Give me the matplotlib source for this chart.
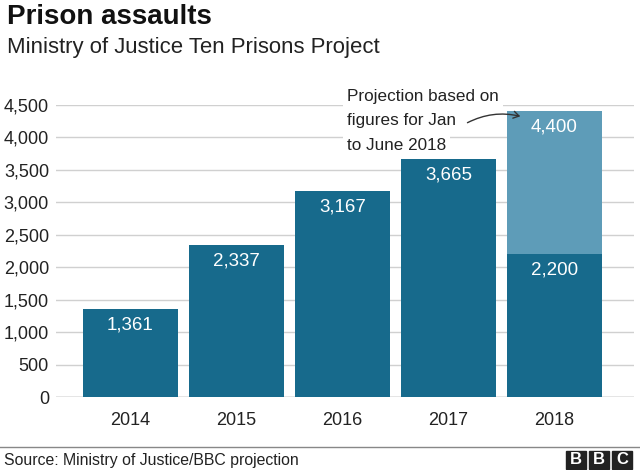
import numpy as np
import matplotlib.pyplot as plt
from matplotlib.patches import Rectangle, FancyArrowPatch

plt.rcParams['font.family'] = ['Liberation Sans', 'DejaVu Sans']

years = ["2014", "2015", "2016", "2017", "2018"]
actual = [1361, 2337, 3167, 3665, 2200]
projected = [0, 0, 0, 0, 2200]
labels = ["1,361", "2,337", "3,167", "3,665", "2,200"]
proj_label = "4,400"
yticks = [0, 500, 1000, 1500, 2000, 2500, 3000, 3500, 4000, 4500]

dark = "#176a8c"
light = "#5e9cb8"

fig = plt.figure(figsize=(6.4, 4.7), dpi=100)
ax = fig.add_axes([56 / 640, 0.155, (634 - 56) / 640, 0.622])

x = np.arange(len(years))
ax.bar(x, actual, width=0.9, color=dark, zorder=2)
ax.bar(x, projected, bottom=actual, width=0.9, color=light, zorder=2)

# value labels, ~16px under the bar tops
px = 4500 / (0.622 * 470)
for xi, v, lab in zip(x, actual, labels):
    ax.text(xi, v - 16 * px, lab, color="white", fontsize=13.5,
            ha="center", va="center", zorder=3)
ax.text(x[-1], actual[-1] + projected[-1] - 16 * px, proj_label, color="white",
        fontsize=13.5, ha="center", va="center", zorder=3)

ax.set_xlim(-0.70, 4.75)
ax.set_ylim(0, 4500)
ax.set_yticks(yticks)
ax.set_yticklabels([f"{t:,}" for t in yticks])
ax.set_xticks(x)
ax.set_xticklabels(years)
ax.tick_params(axis="both", length=0, labelsize=13, colors="#222222")
ax.tick_params(axis="x", pad=11)
ax.tick_params(axis="y", pad=5)
ax.grid(axis="y", color="#d0d0d0", linewidth=1, zorder=0)
for s in ax.spines.values():
    s.set_visible(False)
ax.axhline(0, color="#999999", linewidth=1, zorder=1)

# annotation (white box hides the gridlines behind it)
ann = dict(facecolor="white", edgecolor="none", pad=3)
fig.text(347 / 640, 1 - 97 / 470, "Projection based on", fontsize=12.3, va="center",
         ha="left", color="#222222", bbox=ann)
fig.text(347 / 640, 1 - 121 / 470, "figures for Jan", fontsize=12.3, va="center",
         ha="left", color="#222222", bbox=ann)
fig.text(347 / 640, 1 - 146 / 470, "to June 2018", fontsize=12.3, va="center",
         ha="left", color="#222222", bbox=ann)
arr = FancyArrowPatch((465 / 640, 1 - 124 / 470), (523 / 640, 1 - 117 / 470),
                      transform=fig.transFigure, connectionstyle="arc3,rad=-0.2",
                      arrowstyle="->,head_length=4,head_width=2.5", color="#333333",
                      linewidth=1, zorder=5)
fig.add_artist(arr)

# titles
fig.text(7 / 640, 1 - 17 / 470, "Prison assaults", fontsize=20, weight="bold",
         va="center", ha="left", color="#111111")
fig.text(7 / 640, 1 - 48 / 470, "Ministry of Justice Ten Prisons Project",
         fontsize=15.9, va="center", ha="left", color="#222222")

# footer
fig.add_artist(plt.Line2D([0, 1], [1 - 447 / 470, 1 - 447 / 470],
                          transform=fig.transFigure, color="#888888", linewidth=1))
fig.text(4 / 640, 1 - 461 / 470, "Source: Ministry of Justice/BBC projection",
         fontsize=11.4, va="center", ha="left", color="#222222")
for i, ch in enumerate("BBC"):
    x0 = (566 + i * 23) / 640
    fig.add_artist(Rectangle((x0, 1 - 469 / 470), 20 / 640, 18 / 470,
                             transform=fig.transFigure, color="#222222"))
    fig.text(x0 + 10 / 640, 1 - 460 / 470, ch, color="white", fontsize=12,
             weight="bold", ha="center", va="center")

fig.savefig("out.png", dpi=100)
